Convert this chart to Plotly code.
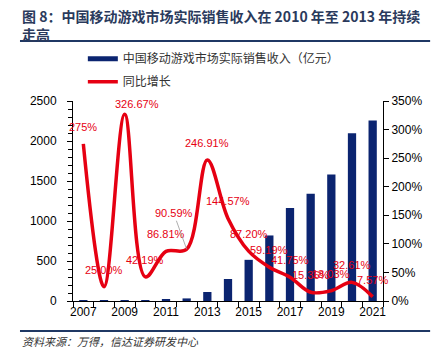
import plotly.graph_objects as go

years = list(range(2007, 2022))
revenue = [1.2, 1.5, 6.4, 9.1, 17.0, 32.4, 112.4, 274.9, 514.6, 819.2, 1161.2, 1339.6, 1581.1, 2096.8, 2255.4]
growth = [275.00, 25.00, 326.67, 42.19, 86.81, 90.59, 246.91, 144.57, 87.20, 59.19, 41.75, 15.36, 18.03, 32.61, 7.57]
growth_labels = ["275%", "25.00%", "326.67%", "42.19%", "86.81%", "90.59%", "246.91%", "144.57%",
                 "87.20%", "59.19%", "41.75%", "15.36%", "18.03%", "32.61%", "7.57%"]

title_text = "图 8：中国移动游戏市场实际销售收入在 2010 年至 2013 年持续<br>走高"
bar_name = "中国移动游戏市场实际销售收入（亿元）"
line_name = "同比增长"
source_text = "资料来源：万得，信达证券研发中心"

NAVY = "#0B2470"
RED = "#E60012"
CJK = "Noto Sans CJK SC"
LAT = "Liberation Sans, Arial"

fig = go.Figure()
fig.add_trace(go.Bar(x=years, y=revenue, marker=dict(color=NAVY, line=dict(width=0)),
                     width=0.4, showlegend=False, name=bar_name))
fig.add_trace(go.Scatter(x=years, y=growth, yaxis="y2", mode="lines",
                         line=dict(color=RED, width=3.5, shape="spline", smoothing=1.0),
                         showlegend=False, name=line_name))
# legend entries
fig.add_trace(go.Scatter(x=[None], y=[None], mode="lines", line=dict(color=NAVY, width=5),
                         name=bar_name, legendgroup="a"))
fig.add_trace(go.Scatter(x=[None], y=[None], mode="lines", yaxis="y2", line=dict(color=RED, width=3.5),
                         name=line_name, legendgroup="b"))

# label offsets (xshift, yshift) in px
offsets = {2009: (12, 10)}
for yr, g, lab in zip(years, growth, growth_labels):
    if yr == 2012:
        fig.add_annotation(x=yr, y=g, xref="x", yref="y2", text=lab, showarrow=True,
                           arrowhead=0, arrowwidth=0.8, arrowcolor="#999999",
                           ax=-13, ay=-36, font=dict(family=LAT, size=11, color=RED))
        continue
    xs, ys = offsets.get(yr, (0, 17))
    fig.add_annotation(x=yr, y=g, xref="x", yref="y2", text=lab, showarrow=False,
                       xshift=xs, yshift=ys, font=dict(family=LAT, size=11, color=RED))

# title
fig.add_annotation(x=-0.171, y=1.485, xref="paper", yref="paper", xanchor="left", yanchor="top",
                   align="left", text=title_text, showarrow=False,
                   font=dict(family=CJK, size=14, color="#2A3A5C", weight="bold"))
# source
fig.add_annotation(x=-0.171, y=-0.2, xref="paper", yref="paper", xanchor="left", yanchor="middle",
                   text=source_text, showarrow=False,
                   font=dict(family=CJK, size=11, color="#333333", style="italic"))

fig.add_shape(type="line", xref="paper", yref="paper", x0=-0.171, x1=1.152, y0=1.3, y1=1.3,
              line=dict(color="#1F3864", width=2))
fig.add_shape(type="line", xref="paper", yref="paper", x0=-0.171, x1=1.152, y0=-0.15, y1=-0.15,
              line=dict(color="#1F3864", width=2))

fig.update_layout(
    width=436, height=362,
    margin=dict(l=73, r=53, t=101, b=61, autoexpand=False),
    paper_bgcolor="white", plot_bgcolor="white",
    font=dict(family=LAT, size=12, color="#000000"),
    bargap=0.6,
    hovermode=False,
    legend=dict(x=0.19, y=0.878, xref="container", yref="container",
                xanchor="left", yanchor="top", orientation="v",
                bgcolor="rgba(0,0,0,0)", tracegroupgap=4,
                font=dict(family=CJK, size=12, color="#333333")),
    xaxis=dict(range=[2006.5, 2021.5], tick0=2007, dtick=2, showgrid=False,
               showline=True, linecolor="#000000", linewidth=1, ticks="", zeroline=False,
               tickfont=dict(family=LAT, size=12, color="#000000"),
               minor=dict(tick0=2006.5, dtick=1, ticks="outside", ticklen=5, tickcolor="#000000", showgrid=False)),
    yaxis=dict(range=[0, 2500], dtick=500, showgrid=False, showline=True, linecolor="#000000",
               linewidth=1, ticks="outside", ticklen=5, tickcolor="#000000", zeroline=False,
               ticklabelstandoff=8,
               tickfont=dict(family=LAT, size=12, color="#000000"),
               minor=dict(dtick=100, ticks="outside", ticklen=4, tickcolor="#000000", showgrid=False)),
    yaxis2=dict(range=[0, 350], dtick=50, overlaying="y", side="right", showgrid=False,
                showline=True, linecolor="#000000", linewidth=1, ticks="outside", ticklen=5,
                tickcolor="#000000", ticksuffix="%", zeroline=False,
                tickfont=dict(family=LAT, size=12, color="#000000")),
)

fig.write_html("out.html", config={"displayModeBar": False},
               post_script="document.body.style.margin='0px';")
